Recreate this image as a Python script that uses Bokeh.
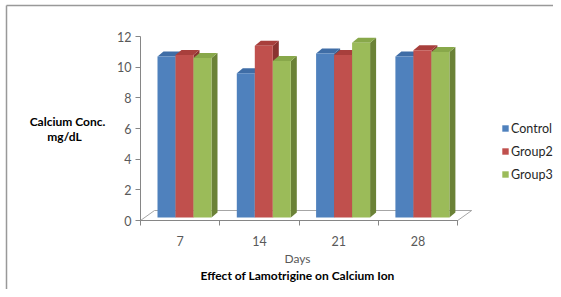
from bokeh.plotting import figure
from bokeh.models import Range1d, FixedTicker, Label, Legend, LegendItem
from bokeh.embed import file_html
from bokeh.resources import INLINE

# ---- data ----
days = ["7", "14", "21", "28"]
groups = ["Control", "Group2", "Group3"]
control = [10.5, 9.4, 10.7, 10.5]
group2 = [10.6, 11.2, 10.6, 10.9]
group3 = [10.4, 10.2, 11.4, 10.8]
y_ticks = [0, 2, 4, 6, 8, 10, 12]

series = [control, group2, group3]
front_colors = ["#4F81BD", "#C0504D", "#9BBB59"]
top_colors = ["#3F6DA6", "#A83F3C", "#88A84A"]
side_colors = ["#3A5E8C", "#8A3330", "#6B8237"]

# ---- geometry (picture pixels -> data units) ----
W, H = 553, 289
OX, OY = 0, 0              # picture position of canvas origin
X0, Y0 = 140, 220          # picture position of data (0, 0)
PX = 79.3                  # px per category
PY = 184 / 12.0            # px per y unit
BAR_W = 18 / PX
BAR_OFF = 17 / PX
BASE = 3 / PY
DDX, DDY = 6 / PX, 5 / PY
FDX, FDY = 14 / PX, 10 / PY


def dx(px):
    return (px - X0) / PX


def dy(py):
    return (Y0 - py) / PY


x_lo, x_hi = dx(OX), dx(OX + W)
y_lo, y_hi = dy(OY + H), dy(OY)

p = figure(width=W, height=H, output_backend="svg", toolbar_location=None,
           x_range=Range1d(x_lo, x_hi), y_range=Range1d(y_lo, y_hi),
           min_border=0, outline_line_color=None,
           background_fill_color="white", border_fill_color="white")
p.grid.visible = False

# outer border (top and left, as in the reference frame)
p.segment(x0=[dx(6), dx(6)], y0=[dy(5), dy(5)], x1=[x_hi, dx(6)], y1=[dy(5), y_lo],
          line_color="#999999", line_width=1.5)

n = len(days)
# floor
p.patch([0, n, n + FDX, FDX], [0, 0, FDY, FDY], fill_color="white",
        line_color="#A6A6A6", line_width=1)
p.line([0, n], [0, 0], line_color="#868686", line_width=1)

legend_items = []
for j, (vals, name) in enumerate(zip(series, groups)):
    lefts = [i + BAR_OFF + j * BAR_W for i in range(n)]
    rights = [l + BAR_W for l in lefts]
    tops = [BASE + v for v in vals]
    side_xs = [[r, r + DDX, r + DDX, r] for r in rights]
    side_ys = [[BASE, BASE + DDY, t + DDY, t] for t in tops]
    p.patches(side_xs, side_ys, fill_color=side_colors[j], line_color=None)
    top_xs = [[l, r, r + DDX, l + DDX] for l, r in zip(lefts, rights)]
    top_ys = [[t, t, t + DDY, t + DDY] for t in tops]
    p.patches(top_xs, top_ys, fill_color=top_colors[j], line_color=None)
    r_front = p.quad(left=lefts, right=rights, bottom=[BASE] * n, top=tops,
                     fill_color=front_colors[j], line_color=None)
    legend_items.append(LegendItem(label=name, renderers=[r_front]))

FONT = "Lato"
TICK_COL = "#595959"

# x axis (drawn at y = 0 inside the frame)
xa = p.xaxis[0]
xa.fixed_location = 0
xa.bounds = (0, n)
xa.ticker = FixedTicker(ticks=[i + 0.5 for i in range(n)], minor_ticks=list(range(n + 1)))
xa.major_label_overrides = {i + 0.5: d for i, d in enumerate(days)}
xa.axis_line_color = None
xa.major_tick_line_color = None
xa.minor_tick_in = 0
xa.minor_tick_out = 5
xa.minor_tick_line_color = "#868686"
xa.major_label_standoff = 9
xa.major_label_text_font = FONT
xa.major_label_text_font_size = "12.5px"
xa.major_label_text_color = TICK_COL

# y axis (drawn at x = 0 inside the frame)
ya = p.yaxis[0]
ya.fixed_location = 0
ya.bounds = (0, 12)
ya.ticker = FixedTicker(ticks=y_ticks, minor_ticks=[])
ya.axis_line_color = "#868686"
ya.major_tick_line_color = "#868686"
ya.major_tick_in = 0
ya.major_tick_out = 5
ya.major_label_standoff = 4
ya.major_label_text_font = FONT
ya.major_label_text_font_size = "12.5px"
ya.major_label_text_color = TICK_COL

# labels
p.add_layout(Label(x=dx(67), y=dy(121), text="Calcium Conc.", text_align="center",
                   text_baseline="middle", text_font=FONT, text_font_style="bold",
                   text_font_size="12px", text_color="black"))
p.add_layout(Label(x=dx(64), y=dy(136), text="mg/dL", text_align="center",
                   text_baseline="middle", text_font=FONT, text_font_style="bold",
                   text_font_size="12px", text_color="black"))
p.add_layout(Label(x=dx(297), y=dy(258), text="Days", text_align="center",
                   text_baseline="middle", text_font=FONT,
                   text_font_size="12px", text_color=TICK_COL))
p.add_layout(Label(x=dx(297), y=dy(275), text="Effect of Lamotrigine on Calcium Ion",
                   text_align="center", text_baseline="middle", text_font=FONT,
                   text_font_style="bold", text_font_size="12px", text_color="black"))

# legend: glyphs at picture x ~502, first item centred at picture y ~128
leg_x = 501 - OX
leg_y = (OY + H) - (120.5 + 3 * 15 + 2 * 8)
legend = Legend(items=legend_items, location=(leg_x, leg_y), orientation="vertical",
                glyph_width=8, glyph_height=8, label_height=15, spacing=8,
                label_standoff=2, padding=0, margin=0, border_line_color=None,
                background_fill_alpha=0, label_text_font=FONT,
                label_text_font_size="12.5px", label_text_color="#262626")
p.add_layout(legend)

open("out.html", "w").write(file_html(p, INLINE))
